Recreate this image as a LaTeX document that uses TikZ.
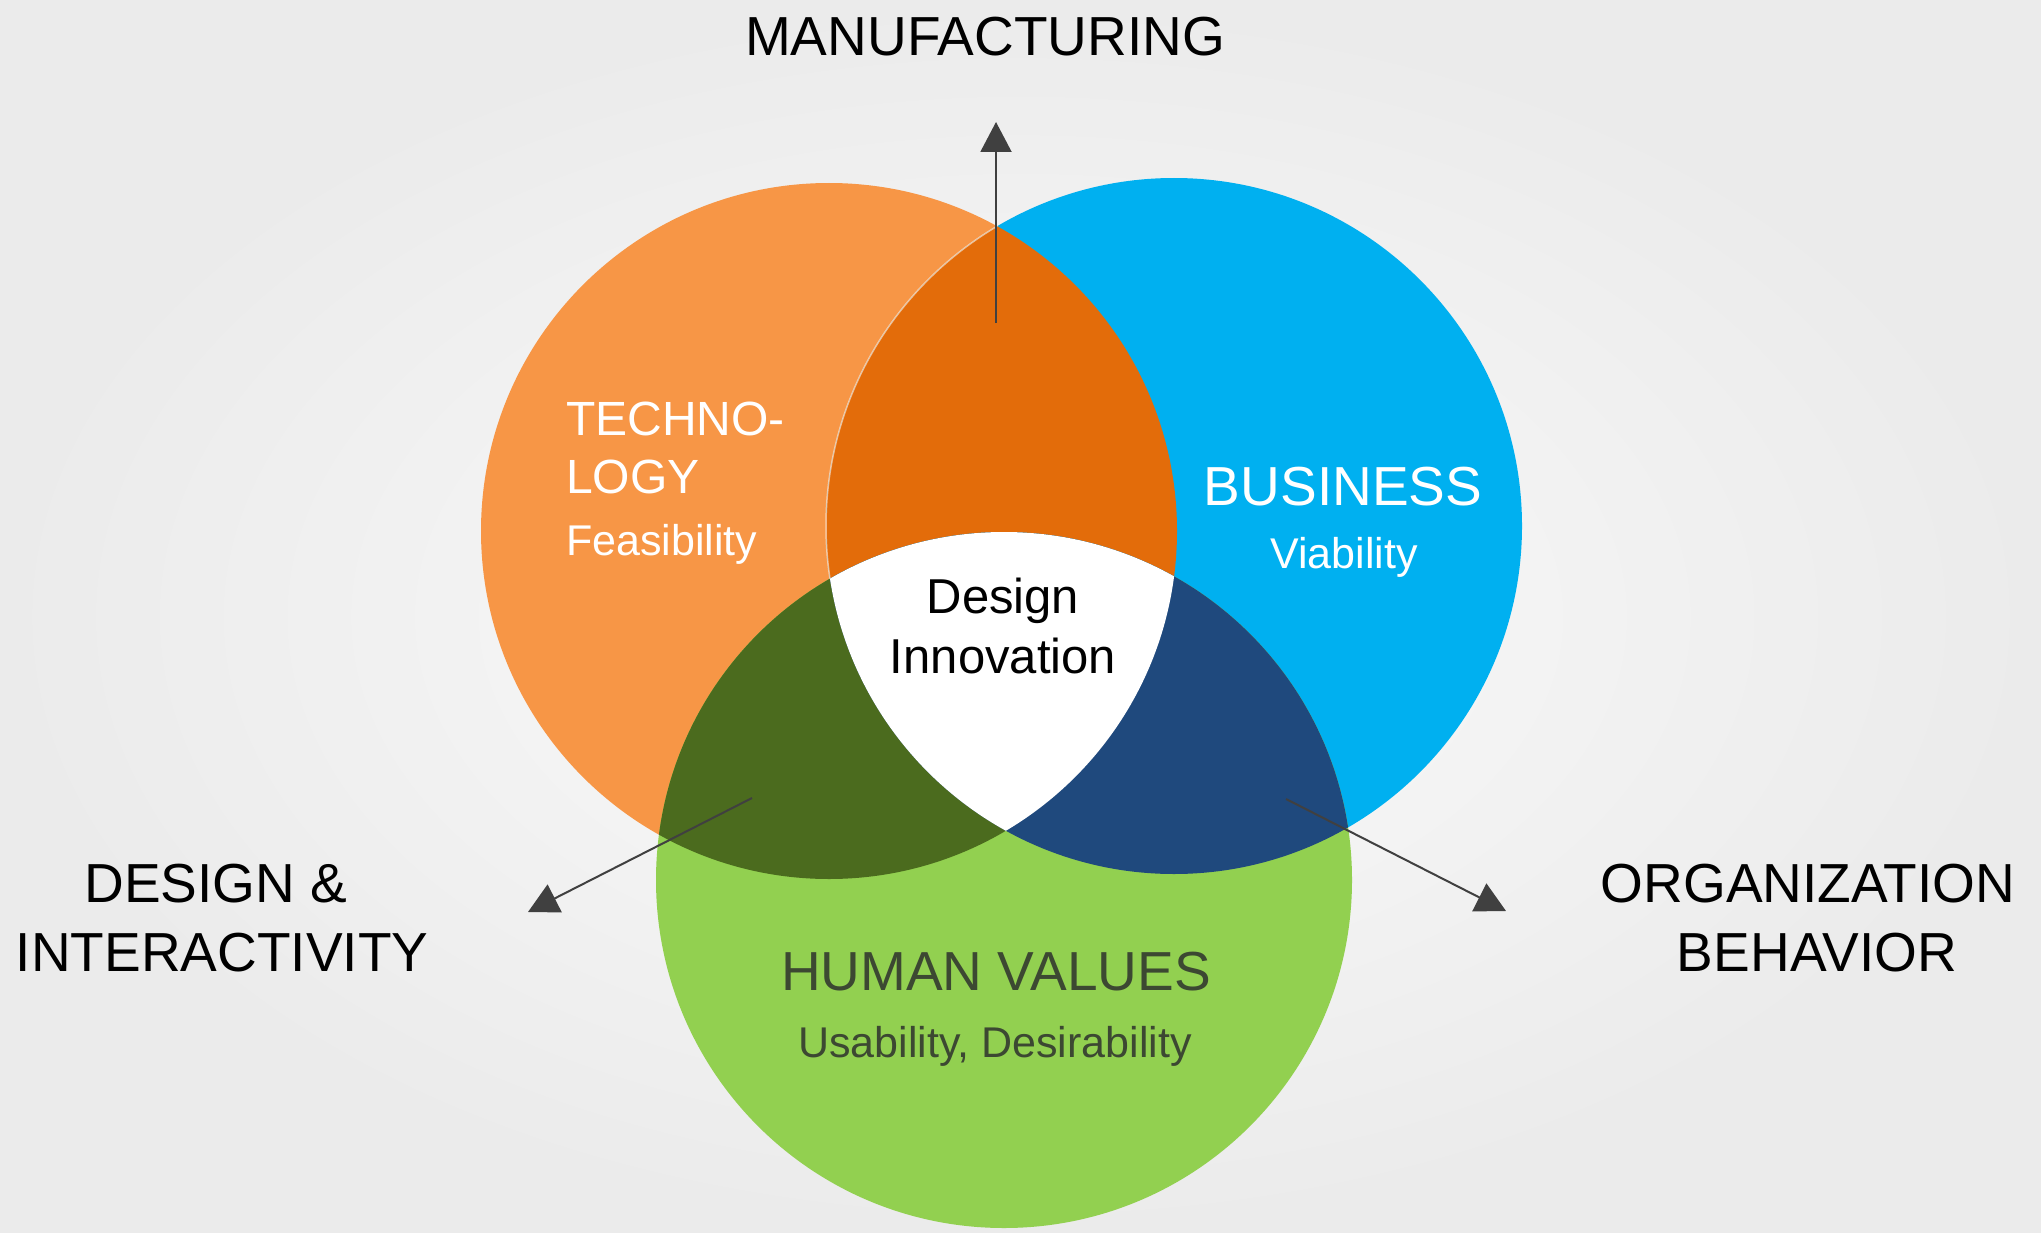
\documentclass[tikz,border=0pt]{standalone}
\usepackage{fontspec}
\setmainfont{Liberation Sans}
\usetikzlibrary{arrows.meta}
\definecolor{bgin}{HTML}{FBFBFB}
\definecolor{bgout}{HTML}{EBEBEB}
\definecolor{corange}{HTML}{F79646}
\definecolor{cdorange}{HTML}{E36C0A}
\definecolor{cblue}{HTML}{00B0F0}
\definecolor{cdblue}{HTML}{1F497D}
\definecolor{cgreen}{HTML}{92D050}
\definecolor{cdgreen}{HTML}{4B6B1E}
\definecolor{arrowgray}{HTML}{404040}
\definecolor{humtext}{HTML}{3C4832}
\tikzset{
  outer/.style={font=\fontsize{55}{69}\selectfont, text=black, inner sep=0pt, anchor=base},
  bigw/.style={font=\fontsize{55}{69}\selectfont, text=white, inner sep=0pt, anchor=base},
  techw/.style={font=\fontsize{48}{58}\selectfont, text=white, inner sep=0pt, anchor=base west},
  smallw/.style={font=\fontsize{43}{52}\selectfont, text=white, inner sep=0pt, anchor=base},
  centre/.style={font=\fontsize{49}{59}\selectfont, text=black, inner sep=0pt, anchor=base},
  arr/.style={draw=arrowgray, line width=2pt, -{Triangle[length=30pt,width=31pt]}, arrowgray}
}
\begin{document}
\begin{tikzpicture}[x=1pt,y=-1pt]
\useasboundingbox (0,0) rectangle (2041,1233);
\shade[inner color=bgin, outer color=bgout] (0,0) rectangle (2041,1233);

\coordinate (cO) at (829,531);
\coordinate (cB) at (1174,526);
\coordinate (cG) at (1004,880);
\def\rr{348}

% base circles
\fill[corange] (cO) circle[radius=\rr];
\fill[cblue] (cB) circle[radius=\rr];
\fill[cgreen] (cG) circle[radius=\rr];

% orange & blue
\begin{scope}
  \clip (cO) circle[radius=\rr];
  \fill[cdorange] (cB) circle[radius=\rr];
  \draw[white, opacity=0.55, line width=1.5pt] (cB) circle[radius=\rr];
\end{scope}
% orange & green
\begin{scope}
  \clip (cO) circle[radius=\rr];
  \fill[cdgreen] (cG) circle[radius=\rr];
\end{scope}
% blue & green
\begin{scope}
  \clip (cB) circle[radius=\rr];
  \fill[cdblue] (cG) circle[radius=\rr];
\end{scope}
% all three
\begin{scope}
  \clip (cO) circle[radius=\rr];
  \clip (cB) circle[radius=\rr];
  \fill[white] (cG) circle[radius=\rr];
\end{scope}

% arrows
\coordinate (upS) at (996,323);
\coordinate (upE) at (996,122);
\coordinate (llS) at (752,798);
\coordinate (llE) at (528,912);
\coordinate (lrS) at (1286,799);
\coordinate (lrE) at (1506,911);
\draw[arr] (upS) -- (upE);
\draw[arr] (llS) -- (llE);
\draw[arr] (lrS) -- (lrE);

% outer labels
\node[outer] (manuf) at (985,56) {MANUFACTURING};
\node[outer] (des1) at (216,902) {DESIGN \&};
\node[outer] (des2) at (222,971) {INTERACTIVITY};
\node[outer] (org1) at (1808,902) {ORGANIZATION};
\node[outer] (org2) at (1817,971) {BEHAVIOR};

% circle labels
\node[techw] (tech1) at (566,435) {TECHNO-};
\node[techw] (tech2) at (566,493) {LOGY};
\node[smallw, anchor=base west] (feas) at (566,555) {Feasibility};
\node[bigw] (bus) at (1343,505) {BUSINESS};
\node[smallw] (via) at (1344,568) {Viability};
\node[centre] (din1) at (1003,613) {Design};
\node[centre] (din2) at (1003,673) {Innovation};
\node[outer, text=humtext] (hum) at (996,990) {HUMAN VALUES};
\node[smallw, text=humtext] (usab) at (995,1057) {Usability, Desirability};
\end{tikzpicture}
\end{document}
